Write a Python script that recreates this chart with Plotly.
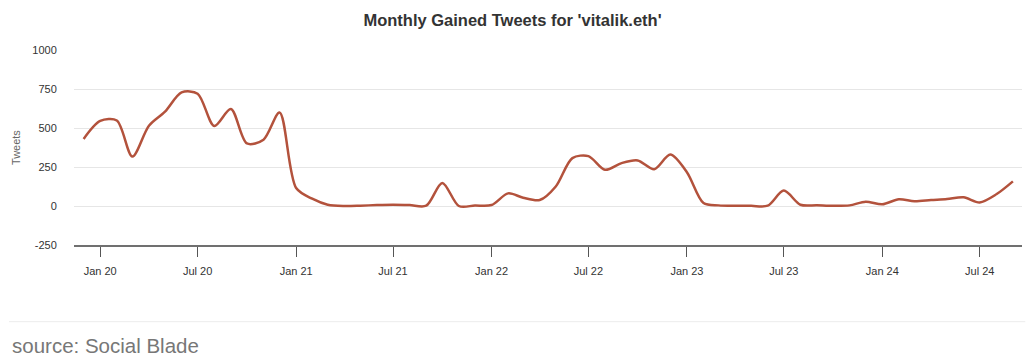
import plotly.graph_objects as go

months = [
    "2019-12-01",
    "2020-01-01", "2020-02-01", "2020-03-01", "2020-04-01", "2020-05-01", "2020-06-01",
    "2020-07-01", "2020-08-01", "2020-09-01", "2020-10-01", "2020-11-01", "2020-12-01",
    "2021-01-01", "2021-02-01", "2021-03-01", "2021-04-01", "2021-05-01", "2021-06-01",
    "2021-07-01", "2021-08-01", "2021-09-01", "2021-10-01", "2021-11-01", "2021-12-01",
    "2022-01-01", "2022-02-01", "2022-03-01", "2022-04-01", "2022-05-01", "2022-06-01",
    "2022-07-01", "2022-08-01", "2022-09-01", "2022-10-01", "2022-11-01", "2022-12-01",
    "2023-01-01", "2023-02-01", "2023-03-01", "2023-04-01", "2023-05-01", "2023-06-01",
    "2023-07-01", "2023-08-01", "2023-09-01", "2023-10-01", "2023-11-01", "2023-12-01",
    "2024-01-01", "2024-02-01", "2024-03-01", "2024-04-01", "2024-05-01", "2024-06-01",
    "2024-07-01", "2024-08-01", "2024-09-01",
]

gained_tweets = [
    430,
    545, 548, 317, 515, 605, 728,
    720, 513, 622, 401, 425, 599,
    115, 45, 8, 0, 2, 6,
    8, 6, 2, 148, 0, 3,
    6, 81, 53, 38, 125, 307,
    320, 232, 275, 292, 236, 330,
    217, 19, 4, 1, 1, 2,
    99, 8, 5, 1, 4, 28,
    11, 43, 30, 38, 45, 56,
    23, 75, 158,
]

tick_dates = ["2020-01-01", "2020-07-01", "2021-01-01", "2021-07-01", "2022-01-01",
              "2022-07-01", "2023-01-01", "2023-07-01", "2024-01-01", "2024-07-01"]
tick_labels = ["Jan 20", "Jul 20", "Jan 21", "Jul 21", "Jan 22",
               "Jul 22", "Jan 23", "Jul 23", "Jan 24", "Jul 24"]

y_ticks = [-250, 0, 250, 500, 750, 1000]
y_tick_labels = ["-250", "0", "250", "500", "750", "1000"]

title_text = "Monthly Gained Tweets for 'vitalik.eth'"
y_title = "Tweets"
source_text = "source: Social Blade"

FONT = "Liberation Sans, Arial, Helvetica, sans-serif"

# page has an 8px body margin: figure is drawn at (8, 8)
OFF = 8
W, H = 1034 - 2 * OFF, 360 - OFF
ml = 74 - OFF
mt = 50 - OFF
plot_right = 1021.7 - OFF
plot_bottom = 245 - OFF
mr = W - plot_right
mb = H - plot_bottom
pw = W - ml - mr
ph = H - mt - mb


def px_x(x):
    return (x - OFF - ml) / pw


def px_y(y):
    return (plot_bottom - (y - OFF)) / ph


fig = go.Figure()
fig.add_trace(go.Scatter(
    x=months, y=gained_tweets, mode="lines",
    line=dict(color="#b3523c", width=2.5, shape="spline", smoothing=0.85),
    showlegend=False, hoverinfo="x+y",
))

fig.update_layout(
    width=W, height=H,
    margin=dict(l=ml, r=mr, t=mt, b=mb),
    paper_bgcolor="white", plot_bgcolor="white",
    font=dict(family=FONT, size=11, color="#333333"),
    title=dict(text="<b>" + title_text + "</b>", x=(512.5 - OFF) / W, xanchor="center",
               y=1 - (20 - OFF) / H, yanchor="middle",
               font=dict(family=FONT, size=16.5, color="#333333")),
    xaxis=dict(
        type="date", range=["2019-11-13", "2024-09-18"],
        tickvals=tick_dates, ticktext=tick_labels,
        showgrid=False, showline=True, linecolor="#707070", linewidth=2,
        ticks="outside", ticklen=10, tickwidth=1, tickcolor="#555555",
        ticklabelstandoff=5,
        tickfont=dict(size=11, color="#333333"), zeroline=False,
    ),
    yaxis=dict(
        range=[-250, 1000], tickvals=y_ticks, ticktext=y_tick_labels,
        showgrid=True, gridcolor="#e6e6e6", gridwidth=1,
        zeroline=False, showline=False,
        ticks="outside", ticklen=14, tickcolor="rgba(0,0,0,0)",
        tickfont=dict(size=11, color="#333333"),
    ),
    shapes=[dict(type="line", xref="paper", yref="paper",
                 x0=px_x(9), x1=px_x(1025), y0=px_y(321.7), y1=px_y(321.7),
                 line=dict(color="#ececec", width=1))],
    annotations=[
        dict(text=y_title, xref="paper", yref="paper", x=px_x(16), y=px_y(147),
             textangle=-90, showarrow=False, xanchor="center", yanchor="middle",
             font=dict(family=FONT, size=11, color="#666666")),
        dict(text=source_text, xref="paper", yref="paper", x=px_x(10), y=px_y(345),
             showarrow=False, xanchor="left", yanchor="middle",
             font=dict(family=FONT, size=20.5, color="#777777")),
    ],
)

fig.write_html("out.html")
